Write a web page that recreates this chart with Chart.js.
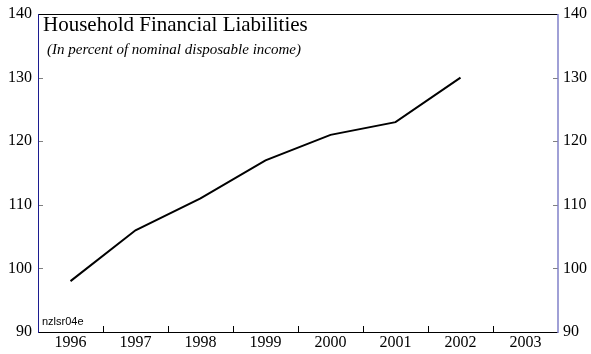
<!DOCTYPE html>
<html>
<head>
<meta charset="utf-8">
<script src="https://cdn.jsdelivr.net/npm/chart.js@4.4.1/dist/chart.umd.min.js"></script>
<style>
html, body { margin: 0; padding: 0; background: #fff; }
#wrap { position: relative; width: 591px; height: 354px; }
canvas { position: absolute; left: 0; top: 0; }
.t { position: absolute; white-space: nowrap; color: #000; line-height: 1; }
</style>
</head>
<body>
<div id="wrap">
  <canvas id="chart" width="591" height="354"></canvas>
  <div class="t" style="left:43px;top:12px;font:21px 'Liberation Serif', serif">Household Financial Liabilities</div>
  <div class="t" style="left:47px;top:41px;font:italic 15px 'Liberation Serif', serif">(In percent of nominal disposable income)</div>
  <div class="t" style="left:42px;top:315px;font:11px 'Liberation Sans', sans-serif">nzlsr04e</div>
</div>
<script>
// annual data
var years = ['1996', '1997', '1998', '1999', '2000', '2001', '2002', '2003'];
var liabilities = [98, 106, 111, 117, 121, 123, 130, null];
var yTicks = [90, 100, 110, 120, 130, 140];

var serif = { family: "'Liberation Serif', serif", size: 16, lineHeight: 1 };

// frame + inward tick marks
var frame = {
  id: 'frame',
  afterDatasetsDraw: function(chart) {
    var ctx = chart.ctx, a = chart.chartArea, y = chart.scales.y;
    ctx.save();
    ctx.lineWidth = 1;
    // top and bottom
    ctx.strokeStyle = '#000';
    ctx.beginPath();
    ctx.moveTo(a.left, a.top + 0.5); ctx.lineTo(a.right, a.top + 0.5);
    ctx.moveTo(a.left, a.bottom + 0.5); ctx.lineTo(a.right, a.bottom + 0.5);
    ctx.stroke();
    // x ticks at category boundaries
    var w = (a.right - a.left) / years.length;
    ctx.beginPath();
    for (var i = 1; i < years.length; i++) {
      var px = Math.round(a.left + i * w) + 0.5;
      ctx.moveTo(px, a.bottom); ctx.lineTo(px, a.bottom - 6);
    }
    ctx.stroke();
    // y ticks
    ctx.strokeStyle = '#808080';
    ctx.beginPath();
    yTicks.slice(1, -1).forEach(function(v) {
      var py = Math.round(y.getPixelForValue(v)) + 0.5;
      ctx.moveTo(a.left, py); ctx.lineTo(a.left + 5, py);
      ctx.moveTo(a.right - 5, py); ctx.lineTo(a.right, py);
    });
    ctx.stroke();
    // left / right axis lines
    ctx.strokeStyle = '#1c1c90';
    ctx.beginPath();
    ctx.moveTo(a.left + 0.5, a.top); ctx.lineTo(a.left + 0.5, a.bottom + 1);
    ctx.stroke();
    ctx.strokeStyle = '#8080c8';
    ctx.lineWidth = 1.5;
    ctx.beginPath();
    ctx.moveTo(a.right, a.top); ctx.lineTo(a.right, a.bottom + 1);
    ctx.stroke();
    ctx.restore();
  }
};

var chart = new Chart(document.getElementById('chart'), {
  type: 'line',
  data: {
    labels: years,
    datasets: [{
      data: liabilities,
      borderColor: '#000',
      borderWidth: 2,
      pointRadius: 0,
      tension: 0,
      fill: false
    }]
  },
  options: {
    responsive: false,
    animation: false,
    layout: { padding: { top: 12, left: 0, right: 0, bottom: 0 } },
    plugins: { legend: { display: false }, tooltip: { enabled: false } },
    scales: {
      x: {
        offset: true,
        grid: { display: false, drawTicks: false },
        border: { display: false },
        ticks: { color: '#000', font: serif, padding: 3, maxRotation: 0 },
        afterFit: function(s) { s.height = 22; }
      },
      y: {
        position: 'left',
        min: 90, max: 140,
        grid: { display: false, drawTicks: false },
        border: { display: false },
        ticks: { stepSize: 10, color: '#000', font: serif, padding: 6 },
        afterFit: function(s) { s.width = 38; }
      },
      y2: {
        position: 'right',
        min: 90, max: 140,
        grid: { display: false, drawTicks: false },
        border: { display: false },
        ticks: { stepSize: 10, color: '#000', font: serif, padding: 5 },
        afterFit: function(s) { s.width = 33; }
      }
    }
  },
  plugins: [frame]
});
</script>
</body>
</html>
